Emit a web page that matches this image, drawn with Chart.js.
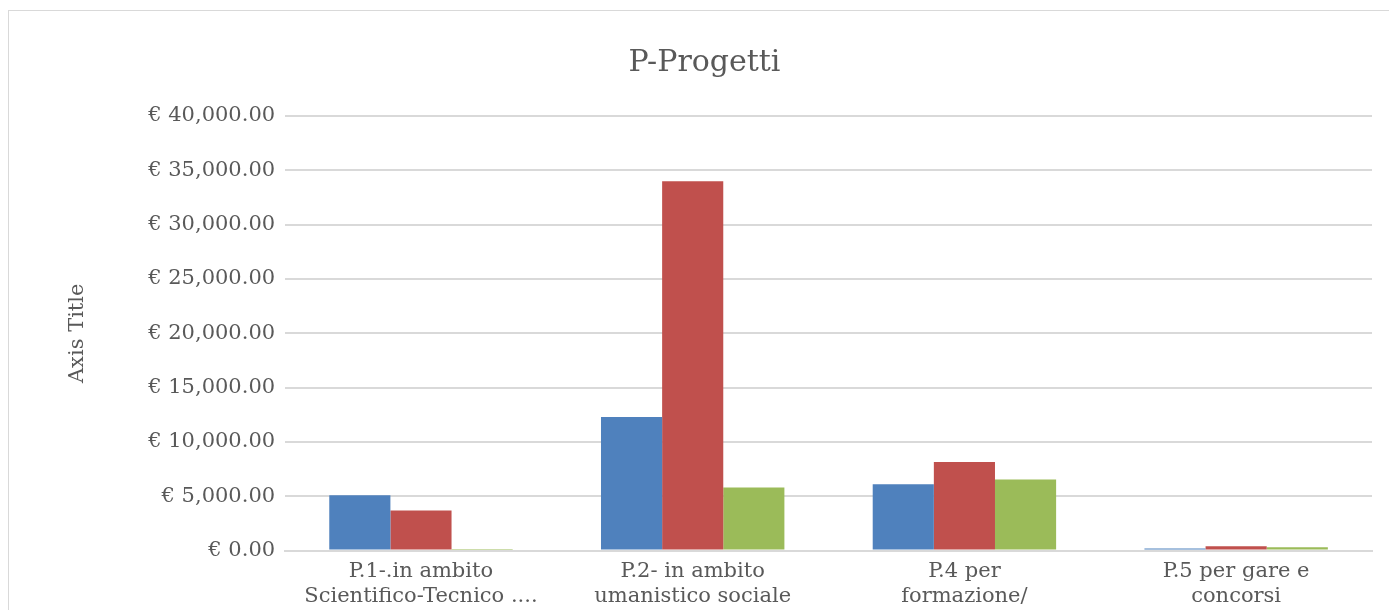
<!DOCTYPE html>
<html>
<head>
<meta charset="utf-8">
<script src="https://cdn.jsdelivr.net/npm/chart.js@4/dist/chart.umd.min.js"></script>
<style>
  html, body { margin: 0; padding: 0; background: #fff; overflow: hidden; }
  #frame {
    position: absolute; left: 8px; top: 10px;
    width: 1400px; height: 618px;
    border: 1px solid #d9d9d9; box-sizing: border-box;
  }
</style>
</head>
<body>
<div id="frame"><canvas id="chart"></canvas></div>
<script>
// categories (multi-line labels as shown in the picture)
var categories = [
    ["P.1-.in ambito", "Scientifico-Tecnico ...."],
    ["P.2- in ambito", "umanistico sociale"],
    ["P.4 per", "formazione/"],
    ["P.5 per gare e", "concorsi"]
];
var seriesBlue = [5100, 12300, 6100, 200];
var seriesRed = [3700, 34000, 8150, 400];
var seriesGreen = [150, 5800, 6550, 300];
var yTicks = [0, 5000, 10000, 15000, 20000, 25000, 30000, 35000, 40000];

var fontFamily = "'DejaVu Serif', serif";
var textColor = "#595959";

Chart.defaults.font.family = fontFamily;
Chart.defaults.color = textColor;

function euro(v) {
    return "€ " + v.toLocaleString("en-US", { minimumFractionDigits: 2, maximumFractionDigits: 2 });
}

new Chart(document.getElementById("chart"), {
    type: "bar",
    data: {
        labels: categories,
        datasets: [
            { label: "Serie 1", data: seriesBlue, backgroundColor: "#4f81bd" },
            { label: "Serie 2", data: seriesRed, backgroundColor: "#c0504d" },
            { label: "Serie 3", data: seriesGreen, backgroundColor: "#9bbb59" }
        ]
    },
    options: {
        responsive: true,
        maintainAspectRatio: false,
        animation: false,
        layout: { padding: { left: 28, right: 35, top: 34, bottom: 10 } },
        datasets: {
            bar: { categoryPercentage: 0.675, barPercentage: 1.0 }
        },
        plugins: {
            legend: { display: false },
            tooltip: { enabled: false },
            title: {
                display: true,
                text: "P-Progetti",
                color: textColor,
                font: { size: 30, weight: "normal" },
                padding: { top: 0, bottom: 35 }
            }
        },
        scales: {
            x: {
                grid: { display: false, drawTicks: false },
                border: { display: true, color: "#d9d9d9", width: 2 },
                ticks: {
                    color: textColor,
                    font: { size: 21 },
                    maxRotation: 0,
                    autoSkip: false,
                    padding: 8
                }
            },
            y: {
                min: 0,
                max: 40000,
                afterBuildTicks: function (axis) {
                    axis.ticks = yTicks.map(function (v) { return { value: v }; });
                },
                grid: { color: "#d9d9d9", lineWidth: 2, drawTicks: false },
                border: { display: false },
                ticks: {
                    color: textColor,
                    font: { size: 21 },
                    padding: 10,
                    callback: function (v) { return euro(v); }
                },
                title: {
                    display: true,
                    text: "Axis Title",
                    color: textColor,
                    font: { size: 21, weight: "normal" },
                    padding: { top: 28, bottom: 48 }
                }
            }
        }
    }
});
</script>
</body>
</html>
